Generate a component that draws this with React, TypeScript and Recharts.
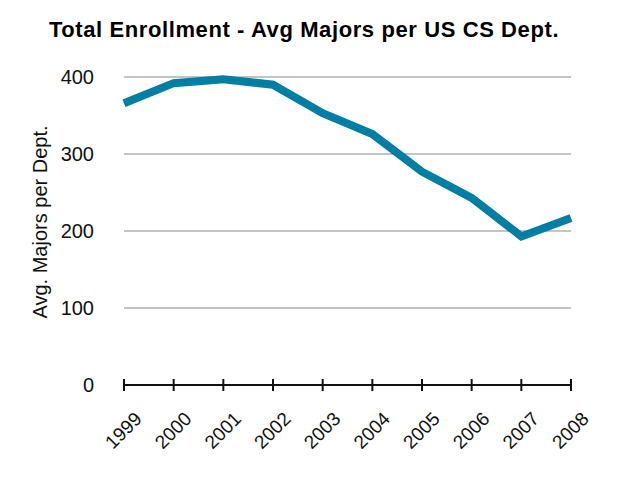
import { LineChart, Line, XAxis, YAxis, CartesianGrid } from "recharts";

const years = ["1999", "2000", "2001", "2002", "2003", "2004", "2005", "2006", "2007", "2008"];
const avgMajors = [366, 392, 397, 390, 353, 326, 277, 243, 193, 217];
const yTicks = [0, 100, 200, 300, 400];

const data = years.map((year, i) => ({ year, majors: avgMajors[i] }));

const FONT = "'Liberation Sans', Arial, Helvetica, sans-serif";

function YearTick(props: any) {
  const { x, y, payload } = props;
  return (
    <g>
      <line x1={x} x2={x} y1={y - 6} y2={y + 6} stroke="#111" strokeWidth={2} />
      <text
        x={x + 19}
        y={y + 35}
        textAnchor="end"
        fontSize={19}
        fontFamily={FONT}
        fill="#111"
        transform={`rotate(-45, ${x + 19}, ${y + 35})`}
      >
        {payload.value}
      </text>
    </g>
  );
}

function ValueTick(props: any) {
  const { y, payload } = props;
  return (
    <text x={94} y={y + 7} textAnchor="end" fontSize={20} fontFamily={FONT} fill="#111">
      {payload.value}
    </text>
  );
}

function AxisTitle(props: any) {
  const { viewBox } = props;
  const cx = viewBox.x + 40;
  const cy = viewBox.y + viewBox.height / 2 - 9;
  return (
    <text
      x={cx}
      y={cy}
      textAnchor="middle"
      dominantBaseline="central"
      fontSize={20}
      fontFamily={FONT}
      fill="#111"
      transform={`rotate(-90, ${cx}, ${cy})`}
    >
      Avg. Majors per Dept.
    </text>
  );
}

export default function App() {
  return (
    <div style={{ position: "absolute", left: 0, top: 0, width: 640, height: 478, background: "#fff" }}>
      <div
        style={{
          position: "absolute",
          top: 19,
          left: 0,
          width: 608,
          textAlign: "center",
          fontFamily: FONT,
          fontWeight: "bold",
          fontSize: 22,
          letterSpacing: 0.6,
          lineHeight: "22px",
          color: "#000",
        }}
      >
        Total Enrollment - Avg Majors per US CS Dept.
      </div>
      <LineChart width={640} height={478} data={data} margin={{ top: 77, right: 69, bottom: 0, left: 0 }}>
        <CartesianGrid vertical={false} stroke="#c4c4c4" strokeWidth={2} />
        <XAxis
          dataKey="year"
          axisLine={{ stroke: "#111", strokeWidth: 2 }}
          tickLine={false}
          tickSize={0}
          tickMargin={0}
          tick={<YearTick />}
          interval={0}
          height={93}
        />
        <YAxis
          domain={[0, 400]}
          ticks={yTicks}
          width={124}
          axisLine={false}
          tickLine={false}
          tick={<ValueTick />}
          label={{ content: <AxisTitle /> }}
        />
        <Line
          type="linear"
          dataKey="majors"
          stroke="#007ea3"
          strokeWidth={8}
          dot={false}
          activeDot={false}
          isAnimationActive={false}
        />
      </LineChart>
    </div>
  );
}
